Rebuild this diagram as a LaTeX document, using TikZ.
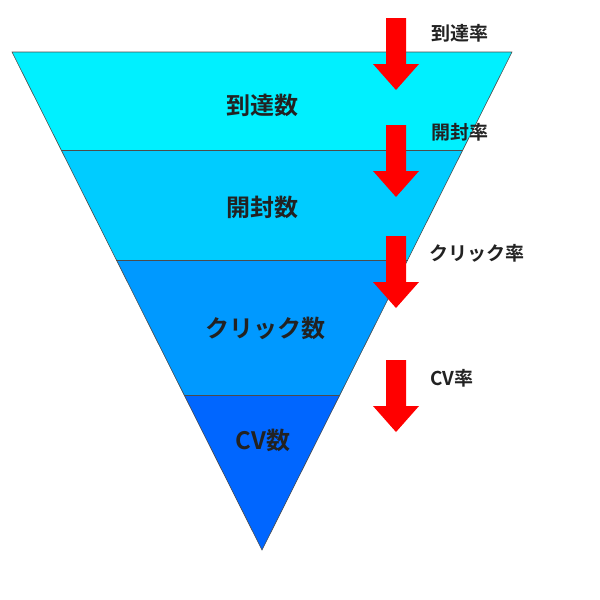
\documentclass[tikz,border=0pt]{standalone}
\usepackage{fontspec}
\newfontfamily\cjk{Noto Sans CJK JP}[BoldFont={Noto Sans CJK JP Bold}]
\definecolor{b1}{HTML}{00F0FF}
\definecolor{b2}{HTML}{00CCFF}
\definecolor{b3}{HTML}{0099FF}
\definecolor{b4}{HTML}{0066FF}
\definecolor{tx}{HTML}{222222}
\begin{document}
\begin{tikzpicture}[x=1pt,y=-1pt,
  band/.style={draw=black!70,line width=0.6pt},
  big/.style={font=\cjk\bfseries\fontsize{24}{28}\selectfont,text=tx},
  small/.style={font=\cjk\bfseries\fontsize{19}{22}\selectfont,text=tx},
  redarrow/.style={fill=red,draw=none}]
\useasboundingbox (0,0) rectangle (600,600);
\coordinate (tl) at (12,52); \coordinate (tr) at (512,52);
\coordinate (l1) at (61.2,150); \coordinate (r1) at (462.8,150);
\coordinate (l2) at (116.4,260); \coordinate (r2) at (407.6,260);
\coordinate (l3) at (184,395); \coordinate (r3) at (340,395);
\coordinate (ap) at (262,550);
\fill[b1] (tl)--(tr)--(r1)--(l1)--cycle;
\fill[b2] (l1)--(r1)--(r2)--(l2)--cycle;
\fill[b3] (l2)--(r2)--(r3)--(l3)--cycle;
\fill[b4] (l3)--(r3)--(ap)--cycle;
\draw[band] (tl)--(tr)--(ap)--cycle;
\draw[band] (l1)--(r1); \draw[band] (l2)--(r2); \draw[band] (l3)--(r3);
\node[big] (n1) at (262,105) {到達数};
\node[big] (n2) at (262,207) {開封数};
\node[big] (n3) at (265,328) {クリック数};
\node[big] (n4) at (263,440) {CV数};
\foreach \t in {18,125,236,360}{
  \fill[redarrow] (386,\t) -- (406,\t) -- (406,\t+46) -- (419,\t+46) -- (396,\t+72) -- (373,\t+46) -- (386,\t+46) -- cycle;
}
\node[small,anchor=west] (a1) at (428,33) {到達率};
\node[small,anchor=west] (a2) at (428,132) {開封率};
\node[small,anchor=west] (a3) at (426,253) {クリック率};
\node[small,anchor=west] (a4) at (427,378) {CV率};
\end{tikzpicture}
\end{document}
